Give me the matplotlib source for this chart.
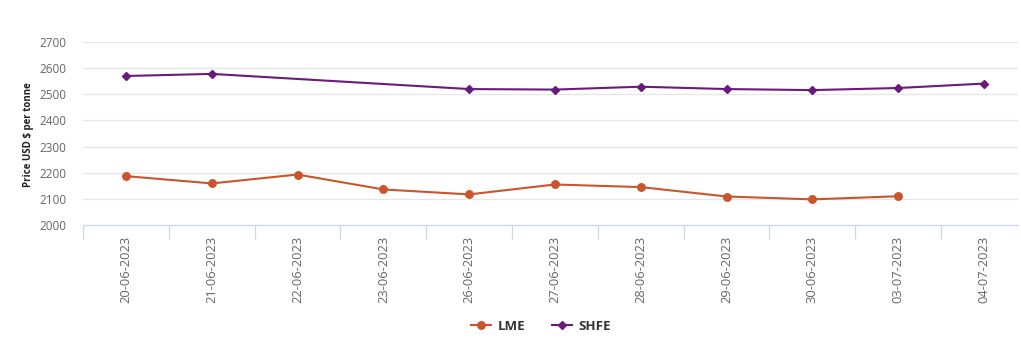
import numpy as np
import matplotlib
matplotlib.use("Agg")
import matplotlib.pyplot as plt
from matplotlib.lines import Line2D

plt.rcParams['font.family'] = ['Open Sans', 'DejaVu Sans']

dates = ["20-06-2023", "21-06-2023", "22-06-2023", "23-06-2023", "26-06-2023",
         "27-06-2023", "28-06-2023", "29-06-2023", "30-06-2023", "03-07-2023",
         "04-07-2023"]
lme = [2187, 2159, 2193, 2136, 2117, 2155, 2145, 2109, 2098, 2110, None]
shfe = [2570, 2578, None, None, 2520, 2518, 2529, 2520, 2516, 2524, 2541]
yticks = [2000, 2100, 2200, 2300, 2400, 2500, 2600, 2700]

LME_C = "#c9552d"
SHFE_C = "#6a1a7a"

W, H = 1021, 343
fig = plt.figure(figsize=(W / 100, H / 100), dpi=100)
ax = fig.add_axes([83 / W, (H - 225) / H, (1018 - 83) / W, (225 - 42) / H])

x = np.arange(len(dates))

def series(vals):
    xs = [i for i, v in zip(x, vals) if v is not None]
    ys = [v for v in vals if v is not None]
    return xs, ys

lx, ly = series(lme)
sx, sy = series(shfe)
ax.plot(lx, ly, color=LME_C, lw=1.5, marker='o', ms=5.4, zorder=3)
ax.plot(sx, sy, color=SHFE_C, lw=1.5, marker='D', ms=4.0, zorder=3)

ax.set_yticks(yticks)
ax.set_yticklabels([str(v) for v in yticks], color="#666666", fontsize=8.5)
ax.grid(axis='y', color="#e6e6e6", lw=0.9)
ax.set_axisbelow(True)
for s in ['top', 'right', 'left']:
    ax.spines[s].set_visible(False)
ax.spines['bottom'].set_color("#ccd6eb")
ax.spines['bottom'].set_linewidth(0.9)
ax.tick_params(axis='y', length=0, pad=12)

# category labels at centers, tick marks at boundaries
ax.set_xticks(x)
ax.set_xticklabels(dates, rotation=90, color="#666666", fontsize=9.3)
ax.tick_params(axis='x', length=0, pad=8)
ax.set_xticks(np.arange(-0.5, len(dates) - 1, 1.0), minor=True)
ax.tick_params(axis='x', which='minor', length=10, color="#ccd6eb", width=0.9)

ax.set_ylim(2000, 2700)
ax.set_xlim(-0.5, 10.396)

fig.text(29 / W, (H - 135) / H, "Price USD $ per tonne", rotation=90,
         ha='center', va='center', fontsize=7.0, fontweight='bold', color="#222222")

handles = [Line2D([0], [0], color=LME_C, lw=1.5, marker='o', ms=5.4),
           Line2D([0], [0], color=SHFE_C, lw=1.5, marker='D', ms=4.0)]
fig.legend(handles, ["LME", "SHFE"], loc='center', bbox_to_anchor=(541 / W, (H - 326) / H),
           ncol=2, frameon=False, handlelength=1.5, columnspacing=2.0,
           handletextpad=0.5, labelcolor="#333333", prop={'weight': 'bold', 'size': 9.5})

fig.savefig("out.png", dpi=100)
